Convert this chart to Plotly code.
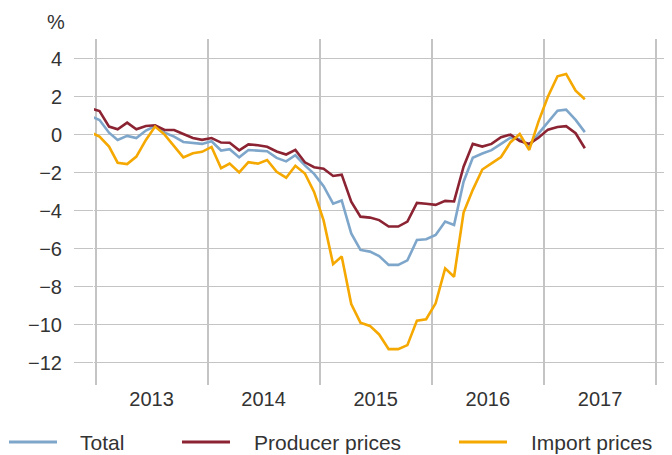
import plotly.graph_objects as go
import pandas as pd

# Monthly observations, Dec 2012 (clipped at left edge) to May 2017
months = pd.date_range("2012-12-01", "2017-05-01", freq="MS") + pd.Timedelta(days=13)

total = [1.0,
         0.79, 0.12, -0.26, -0.05, -0.16, 0.23, 0.47, 0.12, -0.09, -0.37, -0.44, -0.47,
         -0.33, -0.82, -0.75, -1.18, -0.79, -0.82, -0.86, -1.21, -1.39, -1.07, -1.60, -2.05,
         -2.70, -3.62, -3.45, -5.18, -6.05, -6.14, -6.37, -6.84, -6.84, -6.60, -5.53, -5.49,
         -5.26, -4.56, -4.74, -2.46, -1.20, -0.98, -0.80, -0.47, -0.14, -0.23, -0.58, 0.07,
         0.70, 1.28, 1.33, 0.79, 0.15]

producer = [1.40,
            1.26, 0.44, 0.30, 0.65, 0.30, 0.47, 0.51, 0.26, 0.26, 0.05, -0.16, -0.26,
            -0.16, -0.40, -0.41, -0.81, -0.50, -0.54, -0.62, -0.87, -1.03, -0.79, -1.44, -1.70,
            -1.78, -2.16, -2.09, -3.51, -4.30, -4.35, -4.48, -4.82, -4.82, -4.56, -3.58, -3.62,
            -3.68, -3.47, -3.50, -1.67, -0.47, -0.61, -0.47, -0.12, 0.02, -0.32, -0.47, -0.15,
            0.28, 0.42, 0.46, 0.09, -0.70]

imports = [0.15,
           -0.09, -0.61, -1.46, -1.53, -1.14, -0.26, 0.44, 0.02, -0.58, -1.18, -0.96, -0.89,
           -0.63, -1.75, -1.51, -1.97, -1.43, -1.51, -1.32, -1.94, -2.25, -1.62, -2.03, -3.00,
           -4.50, -6.80, -6.40, -8.90, -9.88, -10.05, -10.50, -11.27, -11.27, -11.06, -9.77, -9.70,
           -8.86, -7.02, -7.46, -4.08, -2.89, -1.82, -1.50, -1.16, -0.38, 0.05, -0.79, 0.70,
           2.02, 3.09, 3.21, 2.33, 1.88]

series_names = ["Total", "Producer prices", "Import prices"]
series_values = [total, producer, imports]
series_colors = ["#7ea6ca", "#8b2332", "#f5a800"]

y_tickvals = [-12, -10, -8, -6, -4, -2, 0, 2, 4]
y_ticktext = [("\u2212" + str(abs(v))) if v < 0 else str(v) for v in y_tickvals]

grid_color = "#c4c4c4"
text_color = "#333333"

fig = go.Figure()
for name, vals, col in zip(series_names, series_values, series_colors):
    fig.add_trace(go.Scatter(x=months, y=vals, mode="lines", name=name,
                             line=dict(color=col, width=2.6), showlegend=False))

# page body has an 8px default margin, so the figure is 8px smaller and offset
fig.update_layout(
    width=664, height=447,
    margin=dict(l=86, r=0, t=31, b=70, pad=0),
    plot_bgcolor="white", paper_bgcolor="white",
    font=dict(family="Liberation Sans, Arial, sans-serif", size=20, color=text_color),
    showlegend=False,
)

fig.update_xaxes(
    type="date", range=["2012-12-27", "2018-02-22"],
    tick0="2013-01-01", dtick="M12", tickformat="%Y", ticklabelmode="period",
    showgrid=True, gridcolor=grid_color, gridwidth=1.6,
    ticks="", zeroline=False, showline=False,
)
fig.update_yaxes(
    range=[-13.16, 5.05], tickvals=y_tickvals, ticktext=y_ticktext,
    ticks="outside", ticklen=19, tickcolor=grid_color, tickwidth=1.4,
    ticklabelstandoff=8,
    showgrid=True, gridcolor=grid_color, gridwidth=1.4,
    zeroline=False, showline=False,
)

# absolute page geometry of the plot area (for placing paper-referenced items)
plot_l, plot_w, plot_b, plot_h = 94, 578, 385, 346

# y-axis unit
fig.add_annotation(text="%", xref="paper", yref="paper",
                   x=(56 - plot_l) / plot_w, y=(plot_b - 22) / plot_h,
                   xanchor="center", yanchor="middle", showarrow=False,
                   font=dict(size=20, color=text_color))

# manual legend along the bottom
leg_line_x = [(9, 57), (182, 230), (459, 507)]
leg_text_x = [78, 252, 529]
leg_y_px = 442
ly = (plot_b - leg_y_px) / plot_h
for name, col, (x0, x1), tx in zip(series_names, series_colors, leg_line_x, leg_text_x):
    fig.add_shape(type="line", xref="paper", yref="paper",
                  x0=(x0 - plot_l) / plot_w, x1=(x1 - plot_l) / plot_w, y0=ly, y1=ly,
                  line=dict(color=col, width=3))
    fig.add_annotation(text=name, xref="paper", yref="paper",
                       x=(tx - plot_l) / plot_w, y=ly, xanchor="left", yanchor="middle",
                       showarrow=False, font=dict(size=21, color=text_color))

fig.write_html("out.html")
